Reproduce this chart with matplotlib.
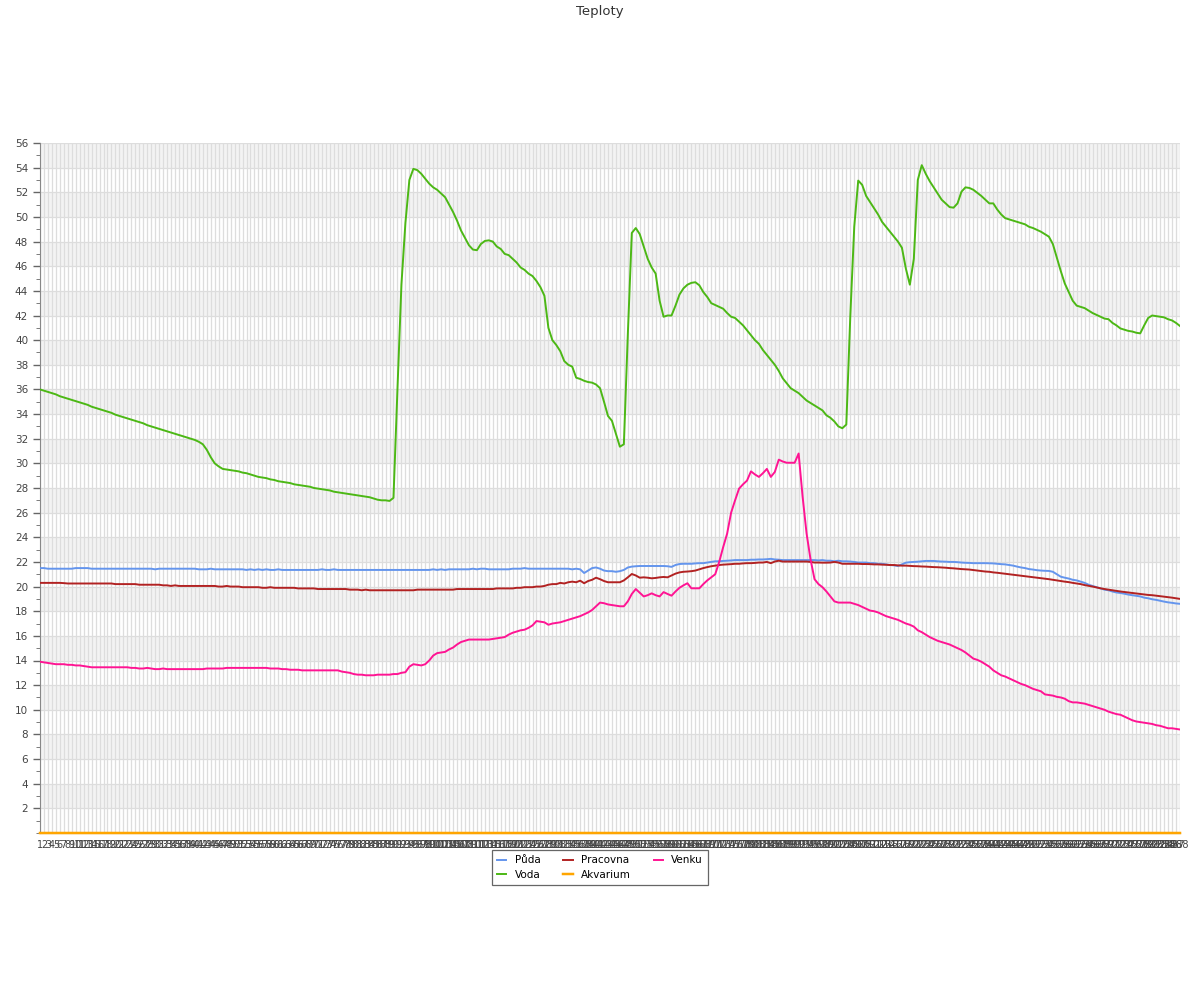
import matplotlib
matplotlib.use("Agg")
import matplotlib.pyplot as plt
from matplotlib.ticker import MultipleLocator

# mereni 1..288
labels = [str(i) for i in range(1, 289)]

puda = [
    21.5, 21.5, 21.45, 21.45, 21.45, 21.45, 21.45, 21.45, 21.45, 21.5,
    21.5, 21.5, 21.5, 21.45, 21.45, 21.45, 21.45, 21.45, 21.45, 21.45,
    21.45, 21.45, 21.45, 21.45, 21.45, 21.45, 21.45, 21.45, 21.45, 21.4,
    21.45, 21.45, 21.45, 21.45, 21.45, 21.45, 21.45, 21.45, 21.45, 21.45,
    21.4, 21.4, 21.4, 21.45, 21.4, 21.4, 21.4, 21.4, 21.4, 21.4,
    21.4, 21.4, 21.35, 21.4, 21.35, 21.4, 21.35, 21.4, 21.35, 21.35,
    21.4, 21.35, 21.35, 21.35, 21.35, 21.35, 21.35, 21.35, 21.35, 21.35,
    21.35, 21.4, 21.35, 21.35, 21.4, 21.35, 21.35, 21.35, 21.35, 21.35,
    21.35, 21.35, 21.35, 21.35, 21.35, 21.35, 21.35, 21.35, 21.35, 21.35,
    21.35, 21.35, 21.35, 21.35, 21.35, 21.35, 21.35, 21.35, 21.35, 21.4,
    21.35, 21.4, 21.35, 21.4, 21.4, 21.4, 21.4, 21.4, 21.4, 21.45,
    21.4, 21.45, 21.45, 21.4, 21.4, 21.4, 21.4, 21.4, 21.4, 21.45,
    21.45, 21.45, 21.5, 21.45, 21.45, 21.45, 21.45, 21.45, 21.45, 21.45,
    21.45, 21.45, 21.45, 21.45, 21.4, 21.45, 21.4, 21.1, 21.3, 21.5,
    21.55, 21.45, 21.3, 21.25, 21.25, 21.2, 21.25, 21.35, 21.55, 21.62,
    21.65, 21.67, 21.67, 21.67, 21.67, 21.67, 21.67, 21.67, 21.65, 21.6,
    21.75, 21.83, 21.85, 21.85, 21.85, 21.88, 21.9, 21.9, 21.95, 22.0,
    22.05, 22.05, 22.08, 22.1, 22.12, 22.15, 22.15, 22.15, 22.15, 22.18,
    22.18, 22.2, 22.2, 22.22, 22.25, 22.2, 22.18, 22.15, 22.15, 22.15,
    22.15, 22.15, 22.15, 22.15, 22.15, 22.15, 22.12, 22.15, 22.1, 22.1,
    22.05, 22.1, 22.05, 22.05, 22.03, 22.0, 21.95, 21.95, 21.95, 21.9,
    21.9, 21.85, 21.85, 21.8, 21.75, 21.72, 21.67, 21.8, 21.94, 21.98,
    22.0, 22.02, 22.05, 22.08, 22.08, 22.08, 22.05, 22.03, 22.02, 22.0,
    22.0, 21.98, 21.95, 21.93, 21.92, 21.9, 21.9, 21.9, 21.9, 21.89,
    21.88, 21.85, 21.82, 21.8, 21.75, 21.7, 21.62, 21.55, 21.5, 21.42,
    21.38, 21.33, 21.3, 21.28, 21.27, 21.2, 21.0, 20.8, 20.72, 20.65,
    20.55, 20.5, 20.4, 20.3, 20.15, 20.05, 19.95, 19.85, 19.75, 19.7,
    19.6, 19.52, 19.48, 19.42, 19.35, 19.3, 19.25, 19.2, 19.1, 19.05,
    18.97, 18.92, 18.85, 18.78, 18.72, 18.68, 18.63, 18.6,
]

voda = [
    36.0, 35.9, 35.8, 35.7, 35.6, 35.45, 35.35, 35.25, 35.15, 35.05,
    34.95, 34.85, 34.75, 34.6, 34.5, 34.4, 34.3, 34.2, 34.1, 33.95,
    33.85, 33.75, 33.65, 33.55, 33.45, 33.35, 33.25, 33.1, 33.0, 32.9,
    32.8, 32.7, 32.6, 32.5, 32.4, 32.3, 32.2, 32.1, 32.0, 31.9,
    31.75, 31.55, 31.1, 30.5, 30.0, 29.75, 29.55, 29.5, 29.45, 29.4,
    29.35, 29.25, 29.2, 29.1, 29.0, 28.9, 28.85, 28.8, 28.7, 28.65,
    28.55, 28.5, 28.45, 28.4, 28.3, 28.25, 28.2, 28.15, 28.1, 28.0,
    27.95, 27.9, 27.85, 27.8, 27.7, 27.65, 27.6, 27.55, 27.5, 27.45,
    27.4, 27.35, 27.3, 27.25, 27.15, 27.05, 27.0, 27.0, 26.95, 27.2,
    36.0, 44.5, 49.5, 53.0, 53.9, 53.8, 53.5, 53.1, 52.7, 52.4,
    52.2, 51.9, 51.6, 51.0, 50.4, 49.7, 48.9, 48.3, 47.7, 47.35,
    47.3, 47.8, 48.05, 48.1, 48.0, 47.6, 47.4, 47.0, 46.9, 46.6,
    46.3, 45.9, 45.7, 45.4, 45.2, 44.8, 44.3, 43.6, 41.0, 40.0,
    39.6, 39.1, 38.3, 38.0, 37.85, 36.95, 36.85, 36.7, 36.6, 36.55,
    36.4, 36.1, 35.0, 33.85, 33.45, 32.4, 31.35, 31.55, 40.5, 48.7,
    49.1, 48.6, 47.6, 46.6, 45.9, 45.4, 43.2, 41.9, 42.0, 42.0,
    42.8, 43.7, 44.2, 44.5, 44.65, 44.7, 44.45, 43.9, 43.5, 43.0,
    42.85, 42.7, 42.55, 42.2, 41.9, 41.8, 41.5, 41.2, 40.8, 40.4,
    40.0, 39.7, 39.2, 38.8, 38.4, 38.0, 37.5, 36.9, 36.5, 36.1,
    35.9, 35.7, 35.4, 35.1, 34.9, 34.7, 34.5, 34.3, 33.9, 33.7,
    33.4, 33.0, 32.85, 33.15, 41.9, 49.2, 52.95, 52.6, 51.7, 51.2,
    50.7, 50.2, 49.6, 49.2, 48.8, 48.4, 48.0, 47.5, 45.8, 44.5,
    46.6, 53.0, 54.2, 53.5, 52.9, 52.4, 51.9, 51.4, 51.1, 50.8,
    50.75, 51.1, 52.05, 52.4, 52.35, 52.2, 51.95, 51.7, 51.4, 51.1,
    51.1, 50.6, 50.2, 49.9, 49.8, 49.7, 49.6, 49.5, 49.4, 49.2,
    49.1, 48.95, 48.8, 48.6, 48.4, 47.8, 46.7, 45.6, 44.6, 43.9,
    43.2, 42.8, 42.7, 42.6, 42.4, 42.2, 42.05, 41.9, 41.75, 41.7,
    41.4, 41.2, 40.95, 40.85, 40.75, 40.7, 40.6, 40.55, 41.2, 41.8,
    42.0, 41.95, 41.9, 41.85, 41.7, 41.6, 41.4, 41.15,
]

pracovna = [
    20.3, 20.3, 20.3, 20.3, 20.3, 20.3, 20.28, 20.25, 20.25, 20.25,
    20.25, 20.25, 20.25, 20.25, 20.25, 20.25, 20.25, 20.25, 20.25, 20.2,
    20.2, 20.2, 20.2, 20.2, 20.2, 20.15, 20.15, 20.15, 20.15, 20.15,
    20.15, 20.1, 20.1, 20.05, 20.1, 20.05, 20.05, 20.05, 20.05, 20.05,
    20.05, 20.05, 20.05, 20.05, 20.05, 20.0, 20.0, 20.05, 20.0, 20.0,
    20.0, 19.95, 19.95, 19.95, 19.95, 19.95, 19.9, 19.9, 19.95, 19.9,
    19.9, 19.9, 19.9, 19.9, 19.9, 19.85, 19.85, 19.85, 19.85, 19.85,
    19.8, 19.8, 19.8, 19.8, 19.8, 19.8, 19.8, 19.8, 19.75, 19.75,
    19.75, 19.7, 19.75, 19.7, 19.7, 19.7, 19.7, 19.7, 19.7, 19.7,
    19.7, 19.7, 19.7, 19.7, 19.7, 19.75, 19.75, 19.75, 19.75, 19.75,
    19.75, 19.75, 19.75, 19.75, 19.75, 19.8, 19.8, 19.8, 19.8, 19.8,
    19.8, 19.8, 19.8, 19.8, 19.8, 19.85, 19.85, 19.85, 19.85, 19.85,
    19.9, 19.9, 19.95, 19.95, 19.95, 20.0, 20.0, 20.05, 20.15, 20.2,
    20.2, 20.3, 20.25, 20.35, 20.4, 20.35, 20.48, 20.27, 20.45, 20.55,
    20.72, 20.6, 20.45, 20.35, 20.35, 20.35, 20.35, 20.5, 20.75, 21.02,
    20.9, 20.72, 20.75, 20.72, 20.67, 20.7, 20.75, 20.78, 20.75, 20.9,
    21.05, 21.15, 21.2, 21.22, 21.25, 21.3, 21.4, 21.5, 21.58, 21.65,
    21.7, 21.75, 21.78, 21.8, 21.82, 21.85, 21.85, 21.88, 21.9, 21.9,
    21.92, 21.95, 21.95, 22.0, 21.9, 22.03, 22.1, 22.03, 22.03, 22.03,
    22.03, 22.03, 22.03, 22.03, 22.0, 21.95, 21.95, 21.94, 21.94, 21.95,
    22.0, 21.95, 21.85, 21.85, 21.85, 21.85, 21.85, 21.83, 21.83, 21.82,
    21.8, 21.8, 21.78, 21.77, 21.75, 21.75, 21.72, 21.7, 21.7, 21.68,
    21.66, 21.65, 21.63, 21.62, 21.6, 21.58, 21.57, 21.55, 21.53, 21.5,
    21.48, 21.45, 21.42, 21.4, 21.38, 21.34, 21.3, 21.26, 21.22, 21.2,
    21.15, 21.12, 21.08, 21.04, 21.0, 20.96, 20.92, 20.88, 20.84, 20.8,
    20.76, 20.72, 20.68, 20.64, 20.6, 20.55, 20.5, 20.45, 20.4, 20.36,
    20.3, 20.25, 20.2, 20.12, 20.06, 20.0, 19.93, 19.86, 19.8, 19.75,
    19.7, 19.65, 19.6, 19.56, 19.52, 19.48, 19.44, 19.4, 19.36, 19.32,
    19.3, 19.26, 19.22, 19.18, 19.14, 19.1, 19.05, 19.0,
]

akvarium = [0.0] * 288

venku = [
    13.9, 13.85, 13.8, 13.75, 13.7, 13.7, 13.7, 13.65, 13.65, 13.6,
    13.6, 13.55, 13.5, 13.45, 13.45, 13.45, 13.45, 13.45, 13.45, 13.45,
    13.45, 13.45, 13.45, 13.4, 13.4, 13.35, 13.35, 13.4, 13.35, 13.3,
    13.3, 13.35, 13.3, 13.3, 13.3, 13.3, 13.3, 13.3, 13.3, 13.3,
    13.3, 13.3, 13.35, 13.35, 13.35, 13.35, 13.35, 13.4, 13.4, 13.4,
    13.4, 13.4, 13.4, 13.4, 13.4, 13.4, 13.4, 13.4, 13.35, 13.35,
    13.35, 13.3, 13.3, 13.25, 13.25, 13.25, 13.2, 13.2, 13.2, 13.2,
    13.2, 13.2, 13.2, 13.2, 13.2, 13.2, 13.1, 13.05, 13.0, 12.9,
    12.85, 12.85, 12.8, 12.8, 12.8, 12.85, 12.85, 12.85, 12.85, 12.9,
    12.9, 13.0, 13.05, 13.5, 13.7, 13.65, 13.6, 13.7, 14.0, 14.4,
    14.6, 14.65, 14.7, 14.9, 15.05, 15.3, 15.5, 15.6, 15.7, 15.7,
    15.7, 15.7, 15.7, 15.7, 15.75, 15.8, 15.85, 15.9, 16.1, 16.25,
    16.35, 16.45, 16.5, 16.65, 16.85, 17.2, 17.15, 17.1, 16.9, 17.0,
    17.05, 17.1, 17.2, 17.3, 17.4, 17.5, 17.6, 17.75, 17.9, 18.1,
    18.4, 18.7, 18.65, 18.55, 18.5, 18.45, 18.4, 18.4, 18.8, 19.4,
    19.8, 19.5, 19.2, 19.3, 19.45, 19.3, 19.2, 19.55, 19.4, 19.26,
    19.6, 19.9, 20.1, 20.27, 19.86, 19.86, 19.86, 20.2, 20.5, 20.75,
    21.0, 22.0, 23.2, 24.3, 26.0, 27.0, 27.95, 28.3, 28.6, 29.35,
    29.1, 28.9, 29.2, 29.55, 28.9, 29.3, 30.3, 30.15, 30.05, 30.05,
    30.05, 30.8, 27.3, 24.3, 22.2, 20.6, 20.2, 19.95, 19.6, 19.2,
    18.8, 18.7, 18.7, 18.7, 18.7, 18.6, 18.5, 18.35, 18.2, 18.05,
    18.0, 17.9, 17.75, 17.6, 17.5, 17.4, 17.3, 17.15, 17.0, 16.9,
    16.75, 16.45, 16.3, 16.1, 15.9, 15.75, 15.6, 15.5, 15.4, 15.3,
    15.15, 15.0, 14.85, 14.65, 14.4, 14.15, 14.05, 13.9, 13.7, 13.5,
    13.2, 13.0, 12.8, 12.7, 12.55, 12.4, 12.25, 12.1, 12.0, 11.85,
    11.7, 11.6, 11.5, 11.25, 11.2, 11.15, 11.05, 11.0, 10.9, 10.7,
    10.6, 10.6, 10.55, 10.5, 10.4, 10.3, 10.2, 10.1, 10.0, 9.85,
    9.75, 9.65, 9.6, 9.45, 9.3, 9.15, 9.05, 9.0, 8.95, 8.9,
    8.85, 8.75, 8.7, 8.6, 8.5, 8.5, 8.45, 8.4,
]

x = list(range(1, len(labels) + 1))

fig = plt.figure(figsize=(12, 10), dpi=100)
ax = fig.add_axes([0.0333, 0.167, 0.95, 0.69])

# pruhy na pozadi
for lo in range(2, 56, 4):
    ax.axhspan(lo, lo + 2, color="#f3f3f3", zorder=0, lw=0)

lw = 1.4
l_puda, = ax.plot(x, puda, color="#6495ed", lw=lw, label="Půda", zorder=3)
l_voda, = ax.plot(x, voda, color="#4cb815", lw=lw, label="Voda", zorder=3)
l_prac, = ax.plot(x, pracovna, color="#b22222", lw=lw, label="Pracovna", zorder=3)
l_akv, = ax.plot(x, akvarium, color="#ffa500", lw=lw + 0.4, label="Akvarium",
                 zorder=4, clip_on=False)
l_venku, = ax.plot(x, venku, color="#ff1493", lw=lw, label="Venku", zorder=3)

ax.set_xlim(1, len(labels))
ax.set_ylim(0, 56)
ax.set_xticks(x)
ax.set_xticklabels(labels, fontsize=7, color="#444444")
ax.set_yticks(range(2, 57, 2))
ax.yaxis.set_minor_locator(MultipleLocator(1))
ax.tick_params(axis="y", labelsize=7.5, colors="#444444", length=5, width=1)
ax.tick_params(axis="y", which="minor", length=3, color="#666666")
ax.tick_params(axis="y", which="major", color="#666666")
ax.tick_params(axis="x", length=0, pad=5)

ax.grid(axis="x", color="#dddddd", lw=0.9, zorder=1)
ax.grid(axis="y", which="major", color="#dddddd", lw=0.9, zorder=1)
ax.set_axisbelow(True)

for s in ["top", "right"]:
    ax.spines[s].set_visible(False)
ax.spines["left"].set_color("#888888")
ax.spines["bottom"].set_color("#888888")

fig.text(0.5, 0.995, "Teploty", ha="center", va="top", fontsize=9.5, color="#333333")

leg = fig.legend([l_puda, l_voda, l_prac, l_akv, l_venku],
                 ["Půda", "Voda", "Pracovna", "Akvarium", "Venku"],
                 loc="upper center", bbox_to_anchor=(0.5, 0.155), ncol=3,
                 fontsize=7.5, handlelength=0.9, handletextpad=0.8,
                 columnspacing=2.2, borderpad=0.5, labelspacing=0.45,
                 fancybox=False, framealpha=1)
leg.get_frame().set_edgecolor("#666666")
leg.get_frame().set_linewidth(0.9)

fig.savefig("out.png", dpi=100)
